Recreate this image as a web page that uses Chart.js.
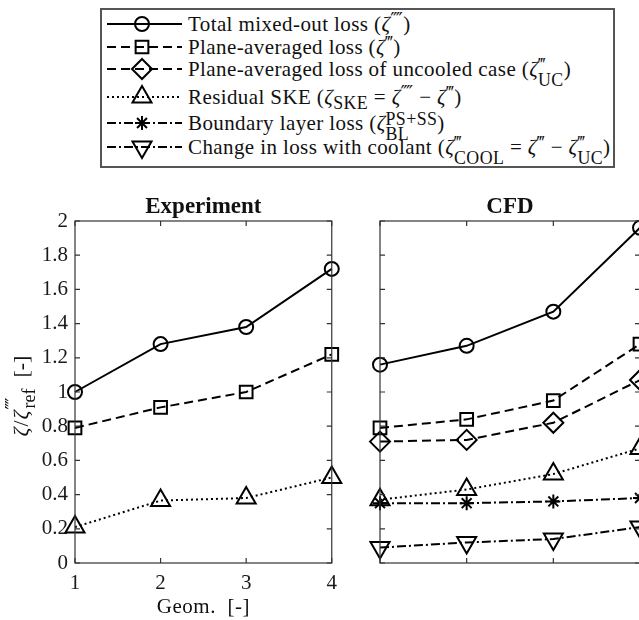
<!DOCTYPE html>
<html>
<head>
<meta charset="utf-8">
<script src="https://cdn.jsdelivr.net/npm/chart.js@4.4.0/dist/chart.umd.min.js"></script>
<style>
  html, body { margin: 0; padding: 0; background: #fff; width: 639px; height: 620px; overflow: hidden; }
  body { position: relative; font-family: "Liberation Serif", "DejaVu Serif", serif; color: #111; }
  #legend { position: absolute; left: 100px; top: 8px; width: 515px; height: 160px; border: 2px solid #555; box-sizing: border-box; }
  #legendLines { position: absolute; left: 5px; top: 0; }
  .row { position: absolute; left: 86px; height: 26px; line-height: 26px; font-size: 21px; letter-spacing: 0.4px; white-space: nowrap; }
  .row i { font-style: italic; }
  .sub { font-size: 0.85em; position: relative; top: 0.3em; }
  .pr { font-size: 0.9em; position: relative; top: -0.25em; }
  .ss { display: inline-block; vertical-align: middle; font-size: 0.85em; line-height: 0.85; text-align: left; position: relative; top: 0.1em; }
  .ss span { display: block; }
  canvas { position: absolute; }
  #expChart { left: 0; top: 180px; }
  #cfdChart { left: 345px; top: 180px; }
</style>
</head>
<body>
<div id="legend">
  <canvas id="legendLines" width="80" height="156"></canvas>
  <div class="row" style="top:1px">Total mixed-out loss (<i>ζ</i><span class="pr">⁗</span>)</div>
  <div class="row" style="top:24px">Plane-averaged loss (<i>ζ</i><span class="pr">‴</span>)</div>
  <div class="row" style="top:46px">Plane-averaged loss of uncooled case (<i>ζ</i><span class="ss"><span>‴</span><span>UC</span></span>)</div>
  <div class="row" style="top:74px">Residual SKE (<i>ζ</i><span class="sub">SKE</span> = <i>ζ</i><span class="pr">⁗</span> − <i>ζ</i><span class="pr">‴</span>)</div>
  <div class="row" style="top:100px">Boundary layer loss (<i>ζ</i><span class="ss"><span>PS+SS</span><span>BL</span></span>)</div>
  <div class="row" style="top:124px">Change in loss with coolant (<i>ζ</i><span class="ss"><span>‴</span><span>COOL</span></span> = <i>ζ</i><span class="pr">‴</span> − <i>ζ</i><span class="ss"><span>‴</span><span>UC</span></span>)</div>
</div>
<canvas id="expChart" width="345" height="440"></canvas>
<canvas id="cfdChart" width="310" height="440"></canvas>
<script>
const geoms = ['1', '2', '3', '4'];
const yTicks = [0, 0.2, 0.4, 0.6, 0.8, 1, 1.2, 1.4, 1.6, 1.8, 2];

// Experiment
const expTotal = [1.00, 1.28, 1.38, 1.72];
const expPlane = [0.79, 0.91, 1.00, 1.22];
const expSke = [0.21, 0.365, 0.38, 0.50];

// CFD
const cfdTotal = [1.16, 1.27, 1.47, 1.96];
const cfdPlane = [0.79, 0.84, 0.95, 1.28];
const cfdUncooled = [0.71, 0.72, 0.82, 1.07];
const cfdSke = [0.37, 0.43, 0.52, 0.67];
const cfdBl = [0.35, 0.35, 0.36, 0.38];
const cfdCool = [0.09, 0.12, 0.14, 0.21];

const ink = '#000';
const serif = '"Liberation Serif", "DejaVu Serif", serif';

// line + marker style per quantity (MATLAB-like)
const styles = {
  total:    { dash: [],           point: 'circle',   radius: 7 },
  plane:    { dash: [9, 5],       point: 'rect',     radius: 9 },
  uncooled: { dash: [9, 5],       point: 'rectRot',  radius: 10 },
  ske:      { dash: [2, 3],       point: 'triangle', radius: 11 },
  bl:       { dash: [9, 3, 2, 3], point: 'star',     radius: 7 },
  cool:     { dash: [9, 3, 2, 3], point: 'triangle', radius: 11, rotation: 180 }
};

function series(values, s) {
  return {
    data: values,
    borderColor: ink,
    borderWidth: 2,
    borderDash: s.dash,
    pointStyle: s.point,
    pointRadius: s.radius,
    pointHoverRadius: s.radius,
    pointRotation: s.rotation || 0,
    pointBorderColor: ink,
    pointBorderWidth: 2,
    pointBackgroundColor: 'rgba(0,0,0,0)',
    tension: 0,
    fill: false,
    clip: false
  };
}

// box around the plot with inward ticks on all four sides
const frame = {
  id: 'frame',
  afterDatasetsDraw(chart) {
    const { ctx, chartArea: a, scales } = chart;
    const tl = 5;
    ctx.save();
    ctx.strokeStyle = '#333';
    ctx.lineWidth = 1.2;
    ctx.strokeRect(a.left, a.top, a.right - a.left, a.bottom - a.top);
    ctx.beginPath();
    yTicks.forEach(v => {
      const y = scales.y.getPixelForValue(v);
      ctx.moveTo(a.left, y); ctx.lineTo(a.left + tl, y);
      ctx.moveTo(a.right, y); ctx.lineTo(a.right - tl, y);
    });
    geoms.forEach((g, i) => {
      const x = scales.x.getPixelForValue(i);
      ctx.moveTo(x, a.bottom); ctx.lineTo(x, a.bottom - tl);
      ctx.moveTo(x, a.top); ctx.lineTo(x, a.top + tl);
    });
    ctx.stroke();
    ctx.restore();
  }
};

// panel title, x label and the rotated y label with sub/superscripts
const labels = {
  id: 'labels',
  afterDraw(chart, args, opts) {
    const { ctx, chartArea: a } = chart;
    const cx = (a.left + a.right) / 2;
    ctx.save();
    ctx.fillStyle = '#111';
    ctx.textAlign = 'center';
    ctx.textBaseline = 'middle';
    ctx.font = 'bold 23px ' + serif;
    ctx.fillText(opts.title, cx, 27);
    if (opts.xLabel) {
      ctx.font = '21px ' + serif;
      ctx.letterSpacing = '0.5px';
      ctx.fillText(opts.xLabel, cx, 427);
      ctx.letterSpacing = '0px';
    }
    if (opts.yLabel) {
      ctx.translate(28, (a.top + a.bottom) / 2 + 6);
      ctx.rotate(-Math.PI / 2);
      ctx.textAlign = 'left';
      ctx.textBaseline = 'alphabetic';
      const big = '22px ' + serif, it = 'italic 22px ' + serif, small = '18px ' + serif;
      const parts = [
        { t: 'ζ', f: it }, { t: '/', f: big }, { t: 'ζ', f: it },
        { t: '⁗', f: small, dy: -9, sup: 'ref' },
        { t: '  [-]', f: big }
      ];
      const width = p => {
        ctx.font = p.f;
        let w = ctx.measureText(p.t).width;
        if (p.sup) { ctx.font = small; w = Math.max(w, ctx.measureText(p.sup).width); }
        return w;
      };
      const total = parts.reduce((s, p) => s + width(p), 0);
      let x = -total / 2;
      parts.forEach(p => {
        const w = width(p);
        ctx.font = p.f;
        ctx.fillText(p.t, x, p.dy || 0);
        if (p.sup) { ctx.font = small; ctx.fillText(p.sup, x + 1, 7); }
        x += w + 1;
      });
    }
    ctx.restore();
  }
};

function panel(canvasId, datasets, o) {
  return new Chart(document.getElementById(canvasId), {
    type: 'line',
    data: { labels: geoms, datasets },
    options: {
      responsive: false,
      animation: false,
      events: [],
      layout: { padding: { top: 41, right: o.padRight, left: 0, bottom: 0 } },
      plugins: {
        legend: { display: false },
        tooltip: { enabled: false },
        labels: { title: o.title, xLabel: o.xLabel, yLabel: o.yLabel }
      },
      scales: {
        x: {
          type: 'category',
          offset: false,
          afterFit: s => { s.height = 57; },
          grid: { display: false, drawTicks: false },
          border: { display: false },
          ticks: { display: o.tickLabels, padding: 8, color: '#1a1a1a', maxRotation: 0, autoSkip: false, font: { family: serif, size: 21 } }
        },
        y: {
          min: 0,
          max: 2,
          afterBuildTicks: s => { s.ticks = yTicks.map(v => ({ value: v })); },
          afterFit: s => { s.width = o.yWidth; },
          grid: { display: false, drawTicks: false },
          border: { display: false },
          ticks: {
            display: o.tickLabels,
            padding: 7,
            color: '#1a1a1a',
            font: { family: serif, size: 21 },
            callback: v => String(Math.round(v * 10) / 10)
          }
        }
      }
    },
    plugins: [frame, labels]
  });
}

panel('expChart', [
  series(expTotal, styles.total),
  series(expPlane, styles.plane),
  series(expSke, styles.ske)
], { title: 'Experiment', xLabel: 'Geom.  [-]', yLabel: true, tickLabels: true, yWidth: 75, padRight: 10 });

panel('cfdChart', [
  series(cfdTotal, styles.total),
  series(cfdPlane, styles.plane),
  series(cfdUncooled, styles.uncooled),
  series(cfdSke, styles.ske),
  series(cfdBl, styles.bl),
  series(cfdCool, styles.cool)
], { title: 'CFD', xLabel: null, yLabel: false, tickLabels: false, yWidth: 35, padRight: 15 });

// legend line samples, same styles as the plotted series
const lctx = document.getElementById('legendLines').getContext('2d');
const rows = [
  [styles.total, 14], [styles.plane, 37], [styles.uncooled, 59],
  [styles.ske, 87], [styles.bl, 113], [styles.cool, 137]
];
lctx.strokeStyle = ink;
lctx.fillStyle = 'rgba(0,0,0,0)';
lctx.lineWidth = 2;
rows.forEach(([s, y]) => {
  lctx.setLineDash(s.dash);
  lctx.beginPath();
  lctx.moveTo(0, y);
  lctx.lineTo(75, y);
  lctx.stroke();
  lctx.setLineDash([]);
  Chart.helpers.drawPoint(lctx, {
    pointStyle: s.point,
    radius: s.radius,
    rotation: s.rotation || 0,
    borderWidth: 2
  }, 35, y);
});
</script>
</body>
</html>
